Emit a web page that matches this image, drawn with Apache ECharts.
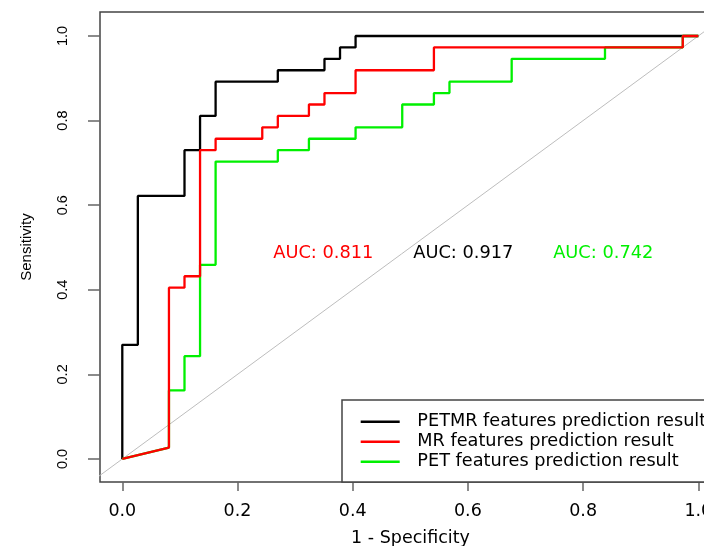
<!DOCTYPE html>
<html>
<head>
<meta charset="utf-8">
<script src="https://cdn.jsdelivr.net/npm/echarts@6/dist/echarts.min.js"></script>
<style>
html,body{margin:0;padding:0;background:#fff;}
#chart{width:704px;height:546px;}
</style>
</head>
<body>
<div id="chart"></div>
<script>
// ---- data ----
const seriesNames = [
  'PETMR features prediction result',
  'MR features prediction result',
  'PET features prediction result'
];
const petmrFpr = [0, 0, 0.027, 0.027, 0.108, 0.108, 0.135, 0.135, 0.162, 0.162, 0.270, 0.270, 0.351, 0.351, 0.378, 0.378, 0.405, 0.405, 1.0];
const petmrTpr = [0, 0.270, 0.270, 0.622, 0.622, 0.730, 0.730, 0.811, 0.811, 0.892, 0.892, 0.919, 0.919, 0.946, 0.946, 0.973, 0.973, 1.0, 1.0];
const mrFpr = [0, 0.081, 0.081, 0.108, 0.108, 0.135, 0.135, 0.162, 0.162, 0.243, 0.243, 0.270, 0.270, 0.324, 0.324, 0.351, 0.351, 0.405, 0.405, 0.541, 0.541, 0.973, 0.973, 1.0];
const mrTpr = [0, 0.027, 0.405, 0.405, 0.432, 0.432, 0.730, 0.730, 0.757, 0.757, 0.784, 0.784, 0.811, 0.811, 0.838, 0.838, 0.865, 0.865, 0.919, 0.919, 0.973, 0.973, 1.0, 1.0];
const petFpr = [0, 0.081, 0.081, 0.108, 0.108, 0.135, 0.135, 0.162, 0.162, 0.270, 0.270, 0.324, 0.324, 0.405, 0.405, 0.486, 0.486, 0.541, 0.541, 0.568, 0.568, 0.676, 0.676, 0.838, 0.838, 0.973, 0.973, 1.0];
const petTpr = [0, 0.027, 0.162, 0.162, 0.243, 0.243, 0.459, 0.459, 0.703, 0.703, 0.730, 0.730, 0.757, 0.757, 0.784, 0.784, 0.838, 0.838, 0.865, 0.865, 0.892, 0.892, 0.946, 0.946, 0.973, 0.973, 1.0, 1.0];
const aucValues = [0.917, 0.811, 0.742];
const xTicks = [0, 0.2, 0.4, 0.6, 0.8, 1.0];
const yTicks = [0, 0.2, 0.4, 0.6, 0.8, 1.0];

// ---- layout / style ----
const X_MIN = -0.0387, X_MAX = 1.0394;
const Y_MIN = -0.0544, Y_MAX = 1.0567;
const colors = ['#000000', '#ff0000', '#00f000'];
const aucPos = [[0.592, 0.485], [0.349, 0.485], [0.835, 0.485]];
const HFONT = 'DejaVu Sans';
const VFONT = 'Liberation Sans';

function zip(a, b) { return a.map((v, i) => [v, b[i]]); }

const curves = [zip(petmrFpr, petmrTpr), zip(mrFpr, mrTpr), zip(petFpr, petTpr)];
const drawOrder = [0, 2, 1];

const series = [{
  type: 'line',
  name: 'diag',
  data: [[X_MIN - 0.1, X_MIN - 0.1], [X_MAX + 0.1, X_MAX + 0.1]],
  showSymbol: false,
  symbol: 'none',
  lineStyle: { color: '#bdbdbd', width: 1 },
  silent: true,
  z: 1,
  clip: true
}];
drawOrder.forEach((i, k) => {
  series.push({
    type: 'line',
    name: seriesNames[i],
    data: curves[i],
    symbol: 'none',
    showSymbol: false,
    color: colors[i],
    lineStyle: { color: colors[i], width: 2.3 },
    z: 3 + k,
    clip: true
  });
});
aucValues.forEach((v, i) => {
  series.push({
    type: 'scatter',
    name: 'auc' + i,
    data: [aucPos[i]],
    symbolSize: 1,
    itemStyle: { color: 'rgba(0,0,0,0)', opacity: 1 },
    silent: true,
    label: {
      show: true,
      position: 'inside',
      formatter: 'AUC: ' + v.toFixed(3),
      color: colors[i],
      opacity: 1,
      textBorderWidth: 0,
      fontFamily: HFONT,
      fontSize: 17.8
    },
    z: 10
  });
});

const chart = echarts.init(document.getElementById('chart'), null, { renderer: 'canvas' });
chart.setOption({
  animation: false,
  backgroundColor: '#ffffff',
  grid: {
    left: 100, top: 12, right: -17, bottom: 64,
    containLabel: false,
    outerBoundsMode: 'none',
    show: true, borderColor: '#444', borderWidth: 1.5, backgroundColor: 'transparent'
  },
  legend: {
    data: seriesNames,
    orient: 'vertical',
    left: 342,
    top: 400,
    padding: [11.7, 30, 10.3, 18.7],
    itemWidth: 39,
    itemHeight: 2.6,
    itemGap: 0,
    icon: 'rect',
    borderColor: '#444',
    borderWidth: 1.5,
    backgroundColor: '#fff',
    selectedMode: false,
    textStyle: {
      fontFamily: HFONT, fontSize: 17.7, color: '#000', lineHeight: 20,
      padding: [0, 0, 0, 12.6]
    }
  },
  xAxis: {
    type: 'value',
    min: X_MIN, max: X_MAX,
    name: '1 - Specificity',
    nameLocation: 'middle',
    nameGap: 47,
    nameTextStyle: { fontFamily: HFONT, fontSize: 17.5, color: '#000' },
    axisLine: { show: false, onZero: false },
    splitLine: { show: false },
    axisTick: { show: true, length: 9, lineStyle: { color: '#666', width: 1.5 }, customValues: xTicks },
    axisLabel: {
      customValues: xTicks,
      formatter: v => v.toFixed(1),
      margin: 20,
      hideOverlap: false,
      fontFamily: HFONT, fontSize: 17.5, color: '#000'
    }
  },
  yAxis: {
    type: 'value',
    min: Y_MIN, max: Y_MAX,
    name: 'Sensitivity',
    nameLocation: 'middle',
    nameRotate: 90,
    nameGap: 66,
    nameTextStyle: { fontFamily: VFONT, fontSize: 15, color: '#000' },
    axisLine: { show: false, onZero: false },
    splitLine: { show: false },
    axisTick: { show: true, length: 12, lineStyle: { color: '#666', width: 1.5 }, customValues: yTicks },
    axisLabel: {
      customValues: yTicks,
      formatter: v => v.toFixed(1),
      rotate: 90,
      margin: 30,
      fontFamily: VFONT, fontSize: 14.5, color: '#000'
    }
  },
  series: series
});
</script>
</body>
</html>
